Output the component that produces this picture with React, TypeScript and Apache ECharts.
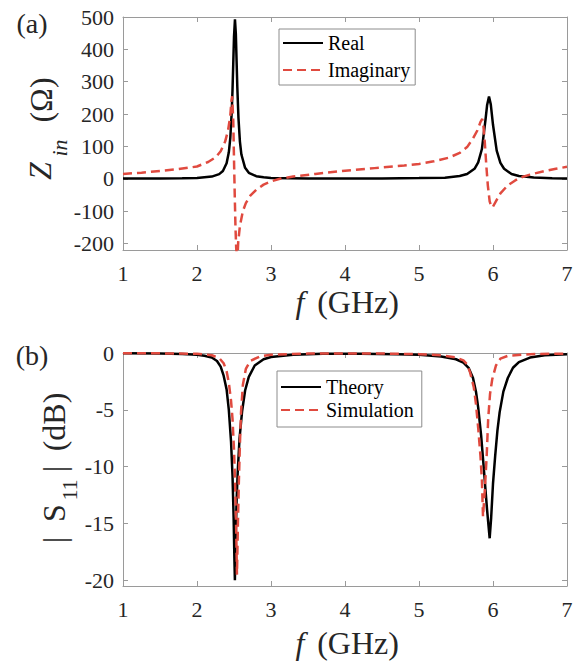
import React, { useEffect, useRef } from "react";
import * as echarts from "echarts";

// ---------- data ----------
const xTicks = [1, 2, 3, 4, 5, 6, 7];
const zTicks = [-200, -100, 0, 100, 200, 300, 400, 500];
const sTicks = [-20, -15, -10, -5, 0];

const realZ: [number, number][] = [
  [1.0, 0.7], [1.5, 1.0], [1.8, 1.6], [2.0, 2.5], [2.2, 6.8], [2.3, 14.5], [2.35, 24],
  [2.4, 48], [2.43, 82], [2.45, 126], [2.47, 210], [2.48, 275], [2.49, 356], [2.5, 439],
  [2.513, 493], [2.525, 447], [2.535, 364], [2.545, 282], [2.56, 189], [2.58, 115],
  [2.6, 75], [2.65, 34], [2.7, 18.6], [2.8, 8], [2.9, 4.5], [3.0, 2.8], [3.5, 0.9],
  [4.0, 0.8], [4.5, 1.2], [5.0, 2.2], [5.35, 3.6], [5.55, 8.6], [5.65, 15], [5.75, 31],
  [5.8, 51], [5.85, 92], [5.9, 185], [5.92, 227], [5.946, 254], [5.97, 230], [6.0, 167],
  [6.05, 87], [6.1, 49], [6.15, 31], [6.25, 15], [6.35, 8.6], [6.55, 3.9], [6.8, 2],
  [7.0, 1.3],
];

const imagZ: [number, number][] = [
  [1.0, 15], [1.25, 19], [1.5, 24], [1.75, 30], [2.0, 38], [2.15, 52], [2.25, 66],
  [2.32, 85], [2.38, 115], [2.42, 150], [2.45, 195], [2.465, 240], [2.475, 255],
  [2.49, 180], [2.5, 60], [2.51, -50], [2.52, -150], [2.53, -215], [2.545, -255],
  [2.557, -195], [2.58, -145], [2.62, -100], [2.66, -75], [2.72, -52], [2.8, -34],
  [2.9, -18], [3.0, -8], [3.12, 0], [3.3, 7], [3.6, 15], [4.0, 25], [4.4, 33],
  [4.8, 41], [5.0, 46], [5.2, 54], [5.4, 65], [5.55, 80], [5.65, 98], [5.73, 125],
  [5.79, 150], [5.83, 175], [5.855, 185], [5.87, 165], [5.89, 110], [5.91, 40],
  [5.93, -20], [5.955, -70], [5.98, -88], [6.0, -86], [6.05, -65], [6.1, -45],
  [6.2, -20], [6.3, -5], [6.36, 3], [6.5, 13], [6.7, 24], [6.85, 31], [7.0, 37],
];

const theoryS: [number, number][] = [
  [1.0, -0.02], [1.5, -0.04], [1.8, -0.08], [2.0, -0.15], [2.1, -0.25], [2.2, -0.4],
  [2.27, -0.7], [2.32, -1.2], [2.36, -2.0], [2.4, -3.2], [2.43, -5.0], [2.46, -7.8],
  [2.48, -10.8], [2.495, -14.5], [2.505, -18], [2.512, -20], [2.52, -17], [2.535, -13],
  [2.55, -10.5], [2.575, -7.5], [2.61, -5.1], [2.65, -3.3], [2.7, -2.1], [2.78, -1.1],
  [2.9, -0.55], [3.0, -0.35], [3.3, -0.15], [3.7, -0.07], [4.2, -0.06], [4.7, -0.1],
  [5.0, -0.15], [5.3, -0.3], [5.5, -0.55], [5.6, -0.85], [5.67, -1.3], [5.73, -2.2],
  [5.77, -3.4], [5.8, -4.8], [5.84, -7.3], [5.88, -10.5], [5.92, -13.8], [5.955, -16.3],
  [5.975, -14.5], [6.0, -11.5], [6.03, -9], [6.06, -6.8], [6.09, -5.2], [6.14, -3.4],
  [6.2, -2.2], [6.27, -1.3], [6.35, -0.8], [6.5, -0.4], [6.7, -0.2], [7.0, -0.1],
];

const simS: [number, number][] = [
  [1.0, -0.02], [1.5, -0.03], [2.0, -0.07], [2.2, -0.2], [2.3, -0.45], [2.36, -0.9],
  [2.4, -1.6], [2.43, -2.6], [2.46, -4.2], [2.48, -5.8], [2.5, -8.5], [2.515, -11.5],
  [2.528, -15], [2.54, -19.5], [2.553, -15], [2.565, -11.5], [2.58, -8], [2.595, -5.2],
  [2.62, -2.8], [2.66, -1.4], [2.72, -0.7], [2.85, -0.3], [3.0, -0.15], [3.5, -0.05],
  [4.5, -0.05], [5.0, -0.1], [5.3, -0.2], [5.5, -0.4], [5.6, -0.65], [5.65, -1.0],
  [5.69, -1.7], [5.74, -3.0], [5.77, -4.5], [5.8, -6.6], [5.83, -9], [5.85, -11.2],
  [5.865, -14.4], [5.89, -12], [5.915, -9], [5.935, -5.8], [5.96, -3.6], [5.99, -2.3],
  [6.04, -1.1], [6.1, -0.5], [6.2, -0.25], [6.5, -0.1], [7.0, -0.05],
];

// ---------- styling ----------
const SERIF = "'Liberation Serif', 'Times New Roman', serif";
const AXIS_COLOR = "#9a9a9a";
const TEXT_COLOR = "#262626";
const RED = "#e04a3f";

function xAxis(gridIndex: number, position: "top" | "bottom", labels: boolean) {
  return {
    type: "value",
    gridIndex,
    position,
    min: 1,
    max: 7,
    interval: 1,
    axisLine: { show: true, onZero: false, lineStyle: { color: AXIS_COLOR, width: 1 } },
    axisTick: { show: true, inside: true, length: 5, lineStyle: { color: AXIS_COLOR } },
    splitLine: { show: false },
    axisLabel: {
      show: labels,
      fontFamily: SERIF,
      fontSize: 22,
      color: TEXT_COLOR,
      margin: 12,
    },
    data: xTicks,
  };
}

function yAxis(
  gridIndex: number,
  position: "left" | "right",
  labels: boolean,
  min: number,
  max: number,
  ticks: number[]
) {
  return {
    type: "value",
    gridIndex,
    position,
    min,
    max,
    axisLine: { show: true, onZero: false, lineStyle: { color: AXIS_COLOR, width: 1 } },
    axisTick: {
      show: true,
      inside: true,
      length: 5,
      customValues: ticks,
      lineStyle: { color: AXIS_COLOR },
    },
    splitLine: { show: false },
    axisLabel: {
      show: labels,
      customValues: ticks,
      fontFamily: SERIF,
      fontSize: 22,
      color: TEXT_COLOR,
      margin: 9,
    },
  };
}

function txt(
  text: string,
  x: number,
  y: number,
  size: number,
  opts: { italic?: boolean; rot?: boolean } = {}
) {
  return {
    type: "text",
    x,
    y,
    rotation: opts.rot ? Math.PI / 2 : 0,
    z: 10,
    style: {
      text,
      fontFamily: SERIF,
      fontSize: size,
      fontStyle: opts.italic ? "italic" : "normal",
      fill: TEXT_COLOR,
      align: "center",
      verticalAlign: "middle",
      textAlign: "center",
      textVerticalAlign: "middle",
    },
  };
}

function legend(names: string[], left: number, top: number, gap: number, pad: number[]) {
  return {
    data: names,
    orient: "vertical",
    left,
    top,
    itemWidth: 40,
    itemHeight: 14,
    itemGap: gap,
    padding: pad,
    borderColor: "#8c8c8c",
    borderWidth: 1,
    borderRadius: 0,
    backgroundColor: "#ffffff",
    itemStyle: { opacity: 0 },
    textStyle: { fontFamily: SERIF, fontSize: 20, color: "#000" },
    selectedMode: false,
  };
}

export default function App() {
  const ref = useRef<HTMLDivElement>(null);

  useEffect(() => {
    if (!ref.current) return;
    const chart = echarts.init(ref.current, null, { renderer: "svg" });
    const option = {
      animation: false,
      backgroundColor: "#ffffff",
      grid: [
        { left: 123, top: 17, width: 444, height: 233 },
        { left: 123, top: 353, width: 444, height: 233 },
      ],
      xAxis: [
        xAxis(0, "bottom", true),
        xAxis(0, "top", false),
        xAxis(1, "bottom", true),
        xAxis(1, "top", false),
      ],
      yAxis: [
        yAxis(0, "left", true, -220, 500, zTicks),
        yAxis(0, "right", false, -220, 500, zTicks),
        yAxis(1, "left", true, -20.5, 0, sTicks),
        yAxis(1, "right", false, -20.5, 0, sTicks),
      ],
      legend: [
        legend(["Real", "Imaginary"], 279, 29, 7, [4, 5, 5, 3]),
        legend(["Theory", "Simulation"], 277, 371, 3, [6, 8, 7, 3]),
      ],
      series: [
        {
          type: "line",
          name: "Real",
          xAxisIndex: 0,
          yAxisIndex: 0,
          data: realZ,
          symbol: "none",
          z: 2,
          lineStyle: { color: "#000", width: 2.5 },
          itemStyle: { color: "#000" },
        },
        {
          type: "line",
          name: "Imaginary",
          xAxisIndex: 0,
          yAxisIndex: 0,
          data: imagZ,
          symbol: "none",
          z: 3,
          lineStyle: { color: RED, width: 2.5, type: [9, 5] },
          itemStyle: { color: RED },
        },
        {
          type: "line",
          name: "Theory",
          xAxisIndex: 2,
          yAxisIndex: 2,
          data: theoryS,
          symbol: "none",
          z: 2,
          lineStyle: { color: "#000", width: 2.5 },
          itemStyle: { color: "#000" },
        },
        {
          type: "line",
          name: "Simulation",
          xAxisIndex: 2,
          yAxisIndex: 2,
          data: simS,
          symbol: "none",
          z: 3,
          lineStyle: { color: RED, width: 2.5, type: [9, 5] },
          itemStyle: { color: RED },
        },
      ],
      graphic: [
        txt("(a)", 32, 23, 28),
        txt("(b)", 32, 355, 28),
        // top x title
        txt("f", 300, 302, 32, { italic: true }),
        txt("(GHz)", 358, 302, 32),
        // bottom x title
        txt("f", 300, 643, 32, { italic: true }),
        txt("(GHz)", 358, 643, 32),
        // top y title: Z_in (Ω)
        txt("Z", 40, 171, 32, { italic: true, rot: true }),
        txt("in", 59, 148, 22, { italic: true, rot: true }),
        txt("(Ω)", 41, 100, 32, { rot: true }),
        // bottom y title: |S_11| (dB)
        txt("|", 54, 540, 32, { rot: true }),
        txt("S", 54, 513, 32, { rot: true }),
        txt("11", 69, 490, 22, { rot: true }),
        txt("|", 54, 469, 32, { rot: true }),
        txt("(dB)", 54, 422, 32, { rot: true }),
      ],
    };
    chart.setOption(option as any);
    return () => chart.dispose();
  }, []);

  return (
    <div
      ref={ref}
      style={{ position: "absolute", left: 0, top: 0, width: 582, height: 665, background: "#fff" }}
    />
  );
}
